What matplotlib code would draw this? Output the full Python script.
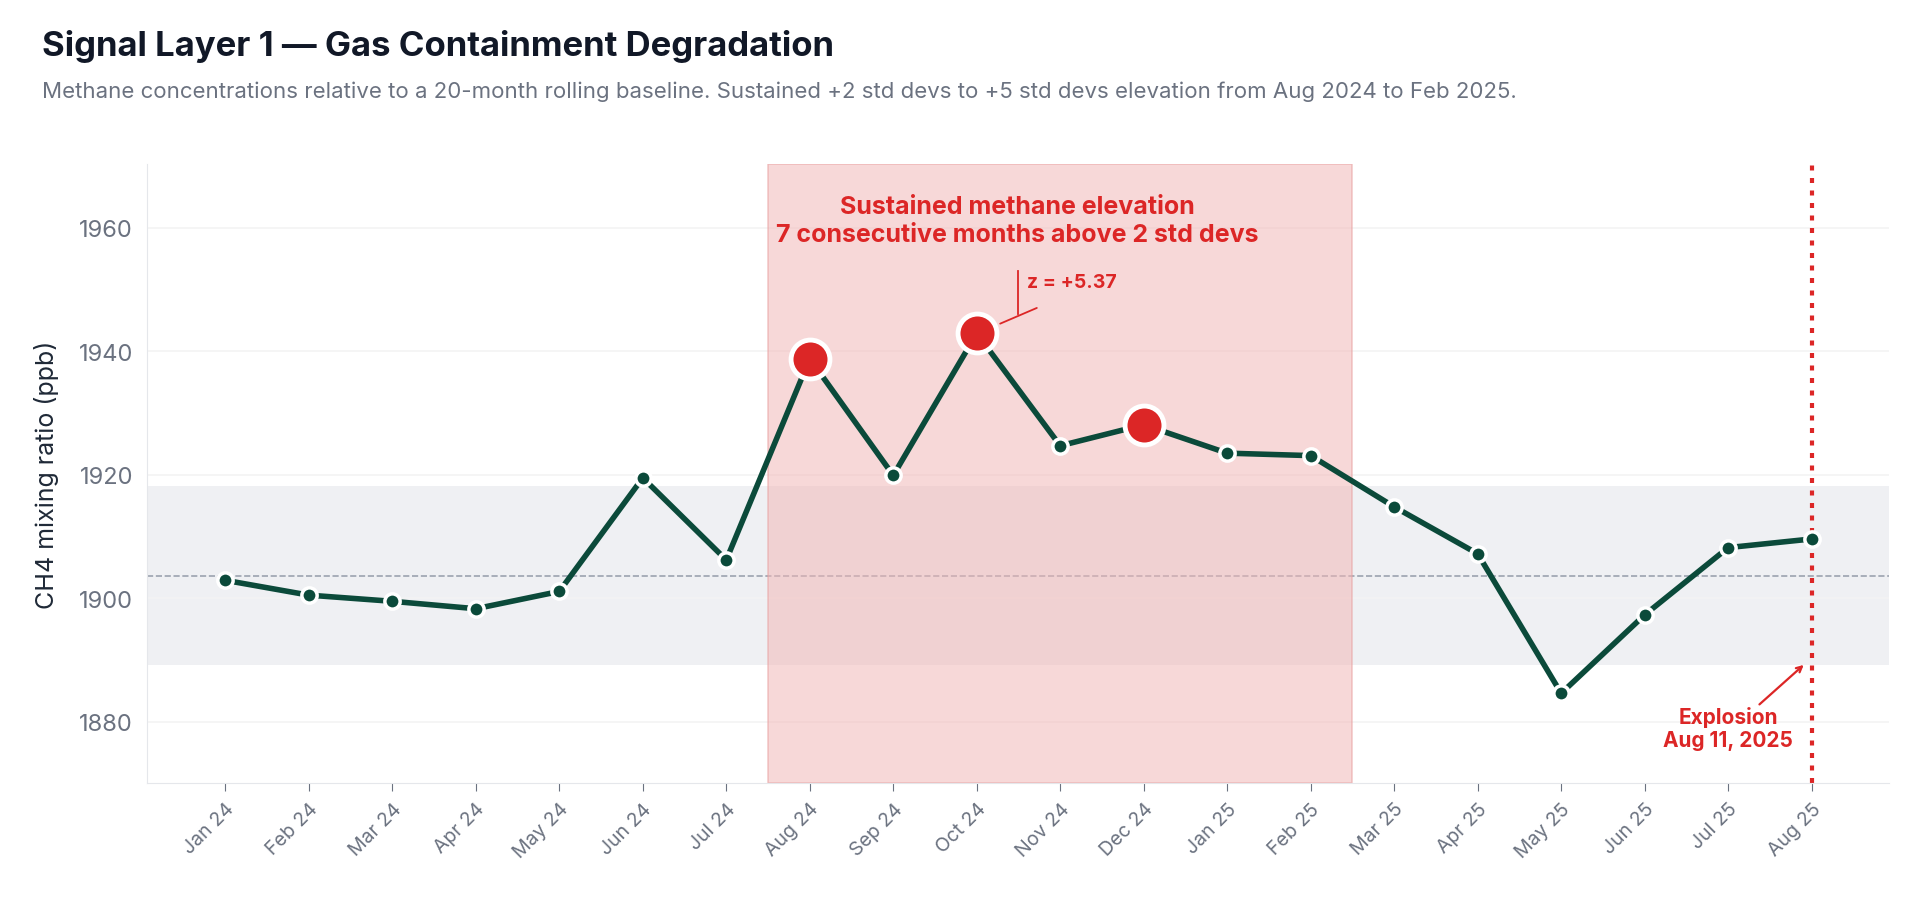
import matplotlib.pyplot as plt
import numpy as np

plt.rcParams['font.family'] = ['Inter', 'DejaVu Sans']

months = ["Jan 24", "Feb 24", "Mar 24", "Apr 24", "May 24", "Jun 24", "Jul 24", "Aug 24",
          "Sep 24", "Oct 24", "Nov 24", "Dec 24", "Jan 25", "Feb 25", "Mar 25", "Apr 25",
          "May 25", "Jun 25", "Jul 25", "Aug 25"]
ch4 = [1902.9, 1900.5, 1899.5, 1898.3, 1901.1, 1919.5, 1906.2, 1938.8, 1919.9, 1942.9,
       1924.7, 1928.1, 1923.5, 1923.1, 1914.8, 1907.2, 1884.6, 1897.3, 1908.2, 1909.6]
highlight = [7, 9, 11]
baseline = 1903.6
band_lo, band_hi = 1889.2, 1918.1

x = np.arange(len(months))
dark = "#0b4a3a"
red = "#dc2626"
grey = "#6b7280"

fig = plt.figure(figsize=(19.2, 9.03), dpi=100)
ax = fig.add_axes([0.0765, 0.132, 0.9075, 0.685])

ax.axhspan(band_lo, band_hi, color="#e5e7eb", alpha=0.6, zorder=0, lw=0)
ax.axhline(baseline, color="#9ca3af", ls="--", lw=1.2, zorder=1)
ax.axvspan(6.5, 13.5, color="#f2b8b8", alpha=0.55, zorder=1, lw=1.2, ec="#e8a0a0")

ax.plot(x, ch4, color=dark, lw=4, zorder=3, marker="o", ms=11, mfc=dark, mec="white", mew=2.5)
ax.plot(x[highlight], np.array(ch4)[highlight], "o", ms=28, mfc=red, mec="white", mew=3.5, zorder=4)

ax.axvline(19, color=red, ls=(0, (1.2, 1.8)), lw=3, zorder=2)

ax.text(9.49, 1961.2, "Sustained methane elevation\n7 consecutive months above 2 std devs",
        ha="center", va="center", color=red, fontsize=18, fontweight="bold", linespacing=1.3)
ax.plot([9.5, 9.5], [1953, 1946], color=red, lw=1.3, zorder=5)
ax.annotate("", xy=(9.25, 1944.3), xytext=(9.75, 1947.2),
            arrowprops=dict(arrowstyle="-", color=red, lw=1.3))
ax.text(9.6, 1951.3, "z = +5.37", color=red, fontsize=14, fontweight="bold", va="center")

ax.annotate("", xy=(18.93, 1889.5), xytext=(18.35, 1882.5),
            arrowprops=dict(arrowstyle="->", color=red, lw=1.6))
ax.text(18.0, 1879.0, "Explosion\nAug 11, 2025", ha="center", va="center", color=red,
        fontsize=15, fontweight="bold", linespacing=1.2)

ax.set_xlim(-0.94, 19.93)
ax.set_ylim(1870.1, 1970.3)
ax.set_xticks(x)
ax.set_xticklabels(months, rotation=45, ha="right", rotation_mode="anchor", color=grey, fontsize=14)
ax.set_yticks([1880, 1900, 1920, 1940, 1960])
ax.tick_params(axis="y", length=0, labelsize=17, labelcolor=grey, pad=10)
ax.tick_params(axis="x", length=6, color=grey, pad=6)
ax.grid(axis="y", color="#f3f3f3", lw=1.2)
ax.set_axisbelow(True)
for s in ["top", "right"]:
    ax.spines[s].set_visible(False)
for s in ["left", "bottom"]:
    ax.spines[s].set_color("#e5e7eb")
ax.set_ylabel("CH4 mixing ratio (ppb)", fontsize=18, color="#1f2937", labelpad=14)

fig.text(0.022, 0.948, "Signal Layer 1 \u2014 Gas Containment Degradation", fontsize=25,
         fontweight="bold", color="#111827", va="center")
fig.text(0.022, 0.898, "Methane concentrations relative to a 20-month rolling baseline. "
         "Sustained +2 std devs to +5 std devs elevation from Aug 2024 to Feb 2025.",
         fontsize=16, color=grey, va="center")

fig.savefig("out.png", dpi=100)
